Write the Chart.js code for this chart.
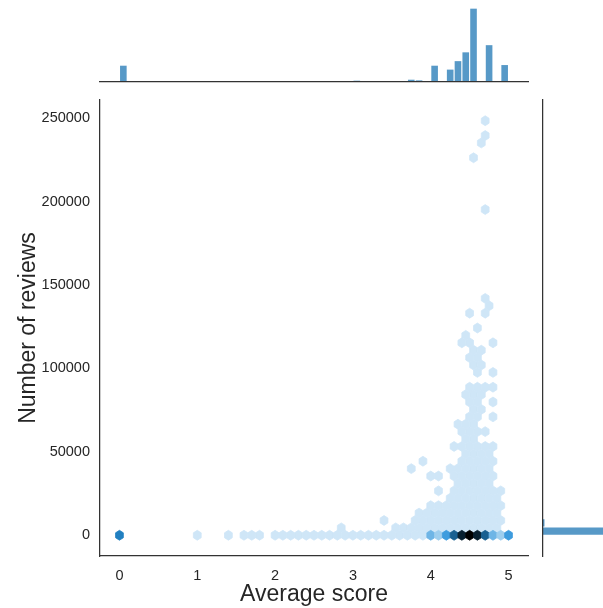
<!DOCTYPE html>
<html>
<head>
<meta charset="utf-8">
<title>Average score vs number of reviews</title>
<script src="https://cdn.jsdelivr.net/npm/chart.js@4.4.1/dist/chart.umd.min.js"></script>
<style>
  html, body { margin: 0; padding: 0; background: #ffffff; overflow: hidden; width: 603px; height: 608px; }
  .panel { position: absolute; }
  canvas { display: block; }
</style>
</head>
<body>
<div class="panel" style="left:0;top:0;width:603px;height:608px"><canvas id="joint" width="603" height="608"></canvas></div>
<div class="panel" style="left:0;top:0;width:603px;height:90px"><canvas id="margX" width="603" height="90"></canvas></div>
<div class="panel" style="left:540px;top:0;width:100px;height:608px"><canvas id="margY" width="100" height="608"></canvas></div>
<script>
// ---- data ---------------------------------------------------------------
const scoreRange = [0, 5];
const reviewRange = [0, 248500];
const scoreTicks = [0, 1, 2, 3, 4, 5];
const reviewTicks = [0, 50000, 100000, 150000, 200000, 250000];

// hexagon grid (gridsize 50): cell width in score units, row step in reviews
const hexWidth = 0.1;
const hexRowStep = 4437.5;

// rows of occupied hexagons: review level of the row and the scores of its cells
const hexRowReviews = [
  248500, 239625, 235187.5, 226312.5, 195250, 142000, 137562.5, 133125,
  124250, 119812.5, 115375, 110937.5, 106500, 102062.5, 97625, 88750,
  84312.5, 79875, 75437.5, 71000, 66562.5, 62125, 57687.5, 53250,
  48812.5, 44375, 39937.5, 35500, 31062.5, 26625, 22187.5, 17750,
  13312.5, 8875, 4437.5, 0
];
const hexRowScores = [
  [4.7], [4.7], [4.65], [4.55], [4.7], [4.7], [4.75], [4.5, 4.7],
  [4.6], [4.45], [4.4, 4.5, 4.8], [4.55, 4.65], [4.5, 4.6], [4.55, 4.65], [4.6, 4.8], [4.5, 4.6, 4.7, 4.8],
  [4.45, 4.55, 4.65], [4.5, 4.6, 4.8], [4.55, 4.65], [4.5, 4.6, 4.8], [4.35, 4.45, 4.55], [4.4, 4.5, 4.6, 4.7], [4.45, 4.55], [4.3, 4.4, 4.5, 4.6, 4.7, 4.8],
  [4.45, 4.55, 4.65, 4.75],
  [3.9, 4.4, 4.5, 4.6, 4.7, 4.8],
  [3.75, 4.25, 4.35, 4.45, 4.55, 4.65, 4.75],
  [4.0, 4.1, 4.3, 4.4, 4.5, 4.6, 4.7, 4.8],
  [4.35, 4.45, 4.55, 4.65, 4.75],
  [4.1, 4.3, 4.4, 4.5, 4.6, 4.7, 4.8, 4.9],
  [4.25, 4.35, 4.45, 4.55, 4.65, 4.75, 4.85],
  [4.0, 4.1, 4.2, 4.3, 4.4, 4.5, 4.6, 4.7, 4.8, 4.9],
  [3.85, 3.95, 4.05, 4.15, 4.25, 4.35, 4.45, 4.55, 4.65, 4.75, 4.85],
  [3.4, 3.8, 3.9, 4.0, 4.1, 4.2, 4.3, 4.4, 4.5, 4.6, 4.7, 4.8, 4.9],
  [2.85, 3.55, 3.65, 3.75, 3.85, 3.95, 4.05, 4.15, 4.25, 4.35, 4.45, 4.55, 4.65, 4.75, 4.85],
  [1.0, 1.4, 1.6, 1.7, 1.8, 2.0, 2.1, 2.2, 2.3, 2.4, 2.5, 2.6, 2.7, 2.8, 2.9, 3.0,
   3.1, 3.2, 3.3, 3.4, 3.5, 3.6, 3.7, 3.8, 3.9]
];
// every cell above holds a single item; the zero-review row is denser
const floorScores = [0.0, 4.0, 4.1, 4.2, 4.3, 4.4, 4.5, 4.6, 4.7, 4.8, 4.9, 5.0];
const floorCounts = [5, 3, 2, 4, 6, 8, 9, 8, 6, 3, 2, 4];

// marginal histogram of scores: 50 bins of 0.1
const scoreBinWidth = 0.1;
const scoreHistCounts = [
  50, 0, 0, 0, 0, 0, 0, 0, 0, 0,
  0, 0, 0, 0, 0, 0, 0, 0, 0, 0,
  0, 0, 0, 0, 0, 0, 0, 0, 0, 0,
  4, 0, 0, 0, 0, 1, 0, 7, 5, 0,
  50, 0, 38, 64, 91, 225, 0, 113, 0, 52
];

// marginal histogram of review counts: 50 bins of 4970
const reviewBinWidth = 4970;
const reviewHistCounts = [
  1000, 20, 0, 0, 0, 0, 0, 0, 0, 0,
  0, 0, 0, 0, 0, 0, 0, 0, 0, 0,
  0, 0, 0, 0, 0, 0, 0, 0, 0, 0,
  0, 0, 0, 0, 0, 0, 0, 0, 0, 0,
  0, 0, 0, 0, 0, 0, 0, 0, 0, 0
];

// ---- styling ------------------------------------------------------------
const textColor = '#262626';
const spineColor = '#333333';
const baseRgb = [31, 119, 180];
const histColor = 'rgba(31,119,180,0.75)';

Chart.defaults.font.family = "'Liberation Sans', Arial, sans-serif";
Chart.defaults.color = textColor;

// axis limits with 5% margins around the data extent
const pad = (r) => { const d = r[1] - r[0]; return [r[0] - 0.05 * d, r[1] + 0.05 * d]; };
const [xMin, xMax] = pad(scoreRange);
const [yMin, yMax] = pad(reviewRange);

// ---- hexagon colours: lightness ramp from white to black at the base hue ----
function rgbToHls(r, g, b) {
  r /= 255; g /= 255; b /= 255;
  const mx = Math.max(r, g, b), mn = Math.min(r, g, b);
  const l = (mx + mn) / 2;
  let h = 0, s = 0;
  if (mx !== mn) {
    const d = mx - mn;
    s = l > 0.5 ? d / (2 - mx - mn) : d / (mx + mn);
    if (mx === r) h = ((g - b) / d + (g < b ? 6 : 0));
    else if (mx === g) h = (b - r) / d + 2;
    else h = (r - g) / d + 4;
    h /= 6;
  }
  return [h, l, s];
}
function hlsToRgb(h, l, s) {
  if (s === 0) return [l, l, l].map(v => Math.round(v * 255));
  const q = l < 0.5 ? l * (1 + s) : l + s - l * s;
  const p = 2 * l - q;
  const f = (t) => {
    if (t < 0) t += 1; if (t > 1) t -= 1;
    if (t < 1 / 6) return p + (q - p) * 6 * t;
    if (t < 1 / 2) return q;
    if (t < 2 / 3) return p + (q - p) * (2 / 3 - t) * 6;
    return p;
  };
  return [f(h + 1 / 3), f(h), f(h - 1 / 3)].map(v => Math.round(Math.max(0, Math.min(1, v)) * 255));
}
const [baseH, , baseS] = rgbToHls(...baseRgb);
function hexColor(count, maxCount) {
  const l = 1 - count / maxCount;
  const [r, g, b] = hlsToRgb(baseH, l, baseS);
  return `rgb(${r},${g},${b})`;
}

// ---- hexagon cells as scatter points ---------------------------------------
const hexCells = [];
hexRowReviews.forEach((rev, i) => {
  hexRowScores[i].forEach(sc => hexCells.push({ x: sc, y: rev, count: 1 }));
});
floorScores.forEach((sc, i) => hexCells.push({ x: sc, y: 0, count: floorCounts[i] }));

const hexPlugin = {
  id: 'hexCells',
  afterDatasetsDraw(chart) {
    const { ctx, chartArea, scales: { x, y } } = chart;
    const cells = chart.data.datasets[0].data;
    const maxCount = Math.max(...cells.map(c => c.count));
    ctx.save();
    ctx.beginPath();
    ctx.rect(chartArea.left, chartArea.top, chartArea.width, chartArea.height);
    ctx.clip();
    cells.forEach(c => {
      const cx = x.getPixelForValue(c.x);
      const cy = y.getPixelForValue(c.y);
      const hw = Math.abs(x.getPixelForValue(c.x + hexWidth / 2) - cx);
      const tip = Math.abs(y.getPixelForValue(c.y + hexRowStep * 2 / 3) - cy);
      const sh = Math.abs(y.getPixelForValue(c.y + hexRowStep / 3) - cy);
      const col = hexColor(c.count, maxCount);
      ctx.beginPath();
      ctx.moveTo(cx, cy - tip);
      ctx.lineTo(cx + hw, cy - sh);
      ctx.lineTo(cx + hw, cy + sh);
      ctx.lineTo(cx, cy + tip);
      ctx.lineTo(cx - hw, cy + sh);
      ctx.lineTo(cx - hw, cy - sh);
      ctx.closePath();
      ctx.fillStyle = col;
      ctx.strokeStyle = col;
      ctx.lineWidth = 0.8;
      ctx.fill();
      ctx.stroke();
    });
    ctx.restore();
  }
};

const common = {
  responsive: false,
  animation: false,
  devicePixelRatio: 1,
  events: [],
  plugins: { legend: { display: false }, tooltip: { enabled: false } }
};

// ---- joint hexbin panel ----------------------------------------------------
new Chart(document.getElementById('joint'), {
  type: 'scatter',
  data: { datasets: [{ data: hexCells, pointRadius: 0, pointHoverRadius: 0 }] },
  options: {
    ...common,
    layout: { padding: { left: 0, top: 100, right: 75, bottom: 0 } },
    scales: {
      x: {
        type: 'linear', min: xMin, max: xMax,
        grid: { display: false, drawTicks: false },
        border: { display: true, color: spineColor, width: 1.25, z: 1 },
        ticks: { padding: 11, color: textColor, font: { size: 14.5 }, callback: v => String(v) },
        title: { display: true, text: 'Average score', color: textColor, font: { size: 23 }, padding: { top: 0, bottom: 0 } },
        afterBuildTicks: s => { s.ticks = scoreTicks.map(v => ({ value: v })); },
        afterFit: s => { s.height = 52; }
      },
      y: {
        type: 'linear', min: yMin, max: yMax,
        grid: { display: false, drawTicks: false },
        border: { display: true, color: spineColor, width: 1.25, z: 1 },
        ticks: { padding: 10, color: textColor, font: { size: 14.5 }, callback: v => String(v) },
        title: { display: true, text: 'Number of reviews', color: textColor, font: { size: 23 }, padding: { top: 15, bottom: 0 } },
        afterBuildTicks: s => { s.ticks = reviewTicks.map(v => ({ value: v })); },
        afterFit: s => { s.width = 100; }
      }
    }
  },
  plugins: [hexPlugin]
});

// ---- marginal histogram of scores (top) -------------------------------------
new Chart(document.getElementById('margX'), {
  type: 'bar',
  data: {
    datasets: [{
      data: scoreHistCounts.map((c, i) => ({ x: scoreRange[0] + (i + 0.5) * scoreBinWidth, y: c })),
      backgroundColor: histColor,
      barPercentage: 0.85,
      categoryPercentage: 1
    }]
  },
  options: {
    ...common,
    layout: { padding: { left: 100, right: 75, top: 5, bottom: 8 } },
    scales: {
      x: {
        type: 'linear', min: xMin, max: xMax, offset: false,
        grid: { display: false, drawTicks: false, offset: false },
        ticks: { display: false },
        border: { display: true, color: spineColor, width: 1.25, z: 1 },
        afterFit: s => { s.height = 0; }
      },
      y: { display: false, min: 0, max: Math.max(...scoreHistCounts) * 1.05 }
    }
  }
});

// ---- marginal histogram of review counts (right) ----------------------------
new Chart(document.getElementById('margY'), {
  type: 'bar',
  data: {
    datasets: [{
      data: reviewHistCounts.map((c, i) => ({ y: reviewRange[0] + (i + 0.5) * reviewBinWidth, x: c })),
      backgroundColor: histColor,
      barPercentage: 0.88,
      categoryPercentage: 1
    }]
  },
  options: {
    ...common,
    indexAxis: 'y',
    layout: { padding: { left: 3, right: 20, top: 100, bottom: 52 } },
    scales: {
      y: {
        type: 'linear', min: yMin, max: yMax, offset: false,
        grid: { display: false, drawTicks: false, offset: false },
        ticks: { display: false },
        border: { display: true, color: spineColor, width: 1.25, z: 1 },
        afterFit: s => { s.width = 0; }
      },
      x: { display: false, min: 0, max: Math.max(...reviewHistCounts) * 1.05 }
    }
  }
});
</script>
</body>
</html>
